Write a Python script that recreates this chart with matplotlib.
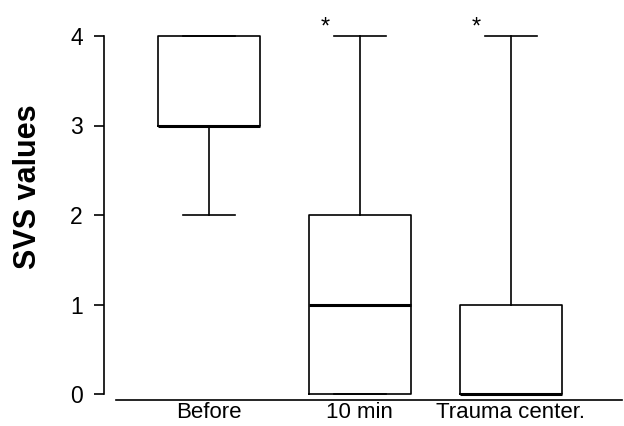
import matplotlib
matplotlib.use('Agg')
import matplotlib.pyplot as plt

# box summaries
categories = ['Before', '10 min', 'Trauma center.']
q1 = [3, 0, 0]
medians = [3, 1, 0]
q3 = [4, 2, 1]
whisk_lo = [2, 0, 0]
whisk_hi = [4, 4, 4]
marks = ['', '*', '*']
y_ticks = [0, 1, 2, 3, 4]

plt.rcParams['font.family'] = ['Liberation Sans', 'DejaVu Sans']

fig = plt.figure(figsize=(6.24, 4.26), dpi=100)
ax = fig.add_axes([116 / 624, 1 - 394 / 426, 506 / 624, 358 / 426])

stats = []
for i, name in enumerate(categories):
    stats.append({
        'label': name,
        'q1': q1[i], 'med': medians[i], 'q3': q3[i],
        'whislo': whisk_lo[i], 'whishi': whisk_hi[i],
        'fliers': [],
    })

positions = list(range(len(categories)))
art = ax.bxp(stats, positions=positions, widths=0.675, capwidths=0.34,
             showfliers=False,
             boxprops=dict(color='black', linewidth=1.2),
             whiskerprops=dict(color='black', linewidth=1.2),
             capprops=dict(color='black', linewidth=1.2),
             medianprops=dict(color='black', linewidth=2.2))
for key in art:
    for a in art[key]:
        a.set_clip_on(False)

for p, m in zip(positions, marks):
    if m:
        ax.text(p - 0.23, 4.1, m, ha='center', va='center', fontsize=17)

ax.set_xlim(-0.615, 2.735)
ax.set_ylim(0, 4)
ax.set_yticks(y_ticks)
ax.set_xticks(positions)
ax.set_xticklabels(categories)

ax.spines['top'].set_visible(False)
ax.spines['right'].set_visible(False)
ax.spines['left'].set_position(('outward', 9))
ax.spines['bottom'].set_position(('outward', 4))
ax.spines['left'].set_linewidth(1.2)
ax.spines['bottom'].set_linewidth(1.2)

ax.tick_params(axis='y', length=7, width=1.2, pad=8, labelsize=16.5)
ax.tick_params(axis='x', length=0, pad=2, labelsize=16)

ax.set_ylabel('SVS values', fontsize=22, fontweight='bold')
ax.yaxis.set_label_coords(-0.145, 0.578)

fig.savefig('out.png', dpi=100)
